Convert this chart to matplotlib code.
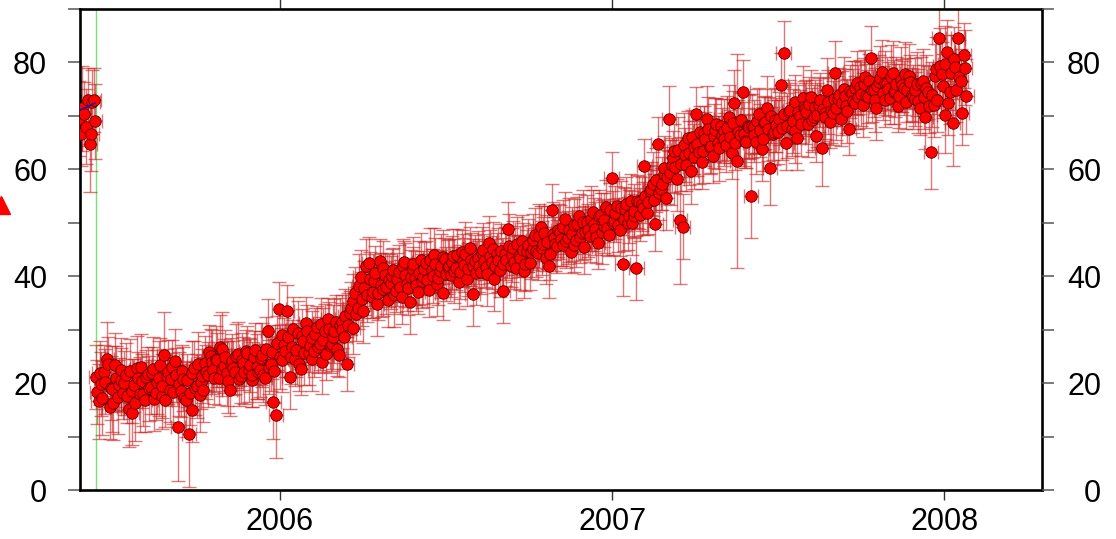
import numpy as np
import matplotlib
matplotlib.use("Agg")
import matplotlib.pyplot as plt

plt.rcParams['font.family'] = ['Liberation Sans', 'DejaVu Sans']

# days counted from 2005-01-01
pre_days = [144, 146, 148, 150, 152, 154, 156, 158, 159, 161, 162]
pre_vals = [69.5, 66.7, 71.4, 70.4, 68.0, 72.9, 64.8, 66.7, 72.6, 72.9, 69.0]
pre_err = [7, 6, 8, 6, 7, 6, 9, 7, 6, 6, 7]

days = [163, 166, 169, 172, 175, 178, 181, 184, 187, 190,
        193, 196, 199, 202, 205, 208, 211, 214, 217, 220,
        223, 226, 229, 232, 235, 238, 241, 244, 247, 250,
        253, 256, 259, 262, 265, 268, 271, 274, 277, 280,
        283, 286, 289, 292, 295, 298, 301, 304, 307, 310,
        313, 316, 319, 322, 325, 328, 331, 334, 337, 340,
        343, 346, 349, 352, 355, 358, 361, 364, 367, 370,
        373, 376, 379, 382, 385, 388, 391, 394, 397, 400,
        403, 406, 409, 412, 415, 418, 421, 424, 427, 430,
        433, 436, 439, 442, 445, 448, 451, 454, 457, 460,
        463, 466, 469, 472, 475, 478, 481, 484, 487, 490,
        493, 496, 499, 502, 505, 508, 511, 514, 517, 520,
        523, 526, 529, 532, 535, 538, 541, 544, 547, 550,
        553, 556, 559, 562, 565, 568, 571, 574, 577, 580,
        583, 586, 589, 592, 595, 598, 601, 604, 607, 610,
        613, 616, 619, 622, 625, 628, 631, 634, 637, 640,
        643, 646, 649, 652, 655, 658, 661, 664, 667, 670,
        673, 676, 679, 682, 685, 688, 691, 694, 697, 700,
        703, 706, 709, 712, 715, 718, 721, 724, 727, 730,
        733, 736, 739, 742, 745, 748, 751, 754, 757, 760,
        763, 766, 769, 772, 775, 778, 781, 784, 787, 790,
        793, 796, 799, 802, 805, 808, 811, 814, 817, 820,
        823, 826, 829, 832, 835, 838, 841, 844, 847, 850,
        853, 856, 859, 862, 865, 868, 871, 874, 877, 880,
        883, 886, 889, 892, 895, 898, 901, 904, 907, 910,
        913, 916, 919, 922, 925, 928, 931, 934, 937, 940,
        943, 946, 949, 952, 955, 958, 961, 964, 967, 970,
        973, 976, 979, 982, 985, 988, 991, 994, 997, 1000,
        1003, 1006, 1009, 1012, 1015, 1018, 1021, 1024, 1027, 1030,
        1033, 1036, 1039, 1042, 1045, 1048, 1051, 1054, 1057, 1060,
        1063, 1066, 1069, 1072, 1075, 1078, 1081, 1084, 1087, 1090,
        1093, 1096, 1099, 1102, 1105, 1108, 1111, 1114, 1117, 1120]

vals = [21.2, 16.6, 19.8, 22.1, 24.5, 15.5, 18.9, 23.3, 17.4, 20.6,
        18.2, 21.5, 15.1, 14.4, 19.6, 22.8, 17.9, 20.4, 16.8, 21.7,
        19.3, 22.6, 18.1, 20.9, 17.5, 25.3, 21.4, 18.8, 23.0, 24.2,
        11.7, 18.6, 20.8, 16.9, 10.5, 15.0, 22.9, 19.4, 17.8, 21.3,
        23.8, 21.6, 25.1, 22.4, 24.6, 20.9, 26.3, 23.2, 21.8, 18.8,
        24.1, 22.0, 25.4, 21.3, 23.7, 26.0, 22.5, 20.6, 24.8, 23.1,
        22.4, 25.2, 20.9, 29.8, 23.6, 16.5, 14.0, 33.9, 24.3, 27.1,
        33.4, 21.2, 26.8, 24.5, 29.3, 22.7, 27.9, 31.2, 25.6, 28.4,
        26.1, 30.5, 27.4, 23.9, 29.8, 32.0, 26.9, 28.6, 31.4, 25.2,
        31.5, 28.7, 23.6, 33.2, 30.4, 36.8, 34.1, 39.9, 33.5, 42.0,
        42.4, 36.2, 39.1, 34.8, 42.9, 37.6, 40.3, 35.5, 38.8, 41.2,
        37.3, 40.8, 36.1, 42.6, 38.5, 35.2, 41.4, 39.7, 37.0, 43.1,
        39.8, 42.5, 37.4, 41.1, 44.0, 38.6, 40.9, 36.8, 43.2, 41.7,
        40.2, 43.8, 41.5, 38.9, 44.6, 42.1, 39.5, 45.2, 36.7, 42.8,
        43.5, 40.7, 44.9, 41.8, 46.3, 42.6, 39.4, 44.1, 41.2, 37.3,
        44.2, 48.9, 42.0, 45.3, 41.6, 43.8, 46.5, 40.9, 44.7, 42.4,
        45.1, 47.8, 44.3, 49.2, 46.0, 43.5, 42.0, 52.3, 47.1, 45.6,
        48.3, 45.9, 50.7, 47.2, 44.6, 49.5, 46.8, 51.3, 48.0, 45.4,
        50.2, 47.6, 52.1, 48.9, 46.3, 51.5, 49.4, 53.0, 47.8, 58.3,
        50.4, 53.2, 48.7, 42.3, 52.6, 49.9, 54.1, 51.3, 41.6, 53.8,
        53.5, 60.7, 51.8, 55.9, 57.2, 49.8, 64.8, 56.3, 59.1, 54.6,
        69.5, 60.8, 63.4, 58.2, 50.5, 49.3, 62.7, 65.9, 59.6, 64.1,
        70.4, 63.2, 61.3, 66.8, 69.5, 64.1, 62.5, 67.3, 65.0, 68.2,
        67.2, 64.5, 69.8, 63.1, 72.5, 61.6, 66.4, 74.4, 65.3, 68.1,
        55.1, 67.9, 65.2, 70.3, 63.8, 68.6, 71.4, 60.3, 66.7, 69.2,
        67.0, 75.7, 81.7, 64.9, 70.8, 67.5, 72.6, 65.8, 69.9, 73.4,
        71.2, 68.4, 73.5, 69.7, 66.3, 72.0, 63.9, 70.6, 74.8, 68.9,
        70.5, 78.1, 73.2, 69.4, 75.0, 71.8, 67.6, 74.3, 72.5, 76.2,
        75.4, 72.1, 77.3, 73.6, 80.9, 74.8, 71.5, 76.4, 78.2, 73.0,
        76.1, 73.4, 78.0, 74.7, 71.9, 76.8, 75.2, 72.6, 77.4, 74.0,
        73.2, 75.9, 71.4, 76.6, 69.8, 74.4, 63.3, 72.0, 78.7, 84.5,
        77.8, 70.1, 81.9, 74.5, 68.6, 79.2, 84.5, 76.6, 81.3, 73.7]

errs = [6, 7, 6, 5, 7, 6, 8, 6, 7, 6,
        5, 6, 7, 6, 5, 6, 7, 5, 6, 5,
        5, 6, 5, 7, 6, 8, 5, 6, 5, 6,
        10, 5, 6, 7, 10, 6, 5, 6, 7, 5,
        5, 6, 5, 4, 6, 5, 7, 5, 6, 5,
        5, 4, 6, 5, 5, 4, 6, 5, 5, 6,
        5, 6, 5, 6, 5, 7, 8, 5, 6, 5,
        5, 6, 5, 5, 6, 5, 4, 5, 6, 5,
        5, 4, 5, 6, 5, 4, 5, 6, 5, 4,
        5, 6, 5, 4, 5, 5, 4, 5, 6, 5,
        5, 4, 5, 6, 4, 5, 4, 5, 5, 4,
        4, 5, 5, 4, 5, 6, 4, 5, 4, 5,
        5, 4, 5, 4, 5, 6, 4, 5, 4, 5,
        4, 5, 4, 5, 4, 5, 5, 4, 6, 5,
        5, 4, 5, 4, 5, 5, 6, 4, 5, 6,
        5, 5, 4, 5, 6, 4, 5, 5, 4, 5,
        4, 5, 5, 4, 5, 5, 6, 5, 4, 5,
        5, 4, 5, 5, 4, 5, 5, 4, 5, 5,
        5, 5, 4, 5, 5, 4, 5, 5, 4, 5,
        4, 5, 5, 6, 4, 5, 5, 4, 6, 5,
        5, 5, 4, 5, 6, 5, 5, 4, 5, 6,
        6, 5, 5, 6, 12, 6, 5, 5, 6, 5,
        5, 6, 5, 5, 6, 5, 5, 6, 5, 5,
        6, 5, 6, 5, 6, 20, 5, 6, 5, 6,
        8, 5, 6, 5, 6, 5, 6, 7, 5, 6,
        6, 6, 6, 5, 6, 5, 5, 6, 5, 6,
        5, 6, 5, 6, 5, 5, 7, 5, 6, 5,
        6, 6, 5, 5, 6, 5, 5, 6, 5, 6,
        5, 6, 5, 5, 6, 5, 6, 5, 6, 5,
        5, 5, 6, 5, 5, 6, 5, 5, 6, 5,
        5, 6, 5, 6, 6, 5, 7, 6, 6, 6,
        6, 7, 6, 6, 8, 6, 7, 6, 6, 7]

# second set of daily solutions (interleaved days)
days_b = [164, 167, 170, 173, 176, 179, 182, 185, 188, 191,
          194, 197, 200, 203, 206, 209, 212, 215, 218, 221,
          224, 227, 230, 233, 236, 239, 242, 245, 248, 251,
          254, 257, 260, 263, 266, 269, 272, 275, 278, 281,
          284, 287, 290, 293, 296, 299, 302, 305, 308, 311,
          314, 317, 320, 323, 326, 329, 332, 335, 338, 341,
          344, 347, 350, 353, 356, 359, 362, 365, 368, 371,
          374, 377, 380, 383, 386, 389, 392, 395, 398, 401,
          404, 407, 410, 413, 416, 419, 422, 425, 428, 431,
          434, 437, 440, 443, 446, 449, 452, 455, 458, 461,
          464, 467, 470, 473, 476, 479, 482, 485, 488, 491,
          494, 497, 500, 503, 506, 509, 512, 515, 518, 521,
          524, 527, 530, 533, 536, 539, 542, 545, 548, 551,
          554, 557, 560, 563, 566, 569, 572, 575, 578, 581,
          584, 587, 590, 593, 596, 599, 602, 605, 608, 611,
          614, 617, 620, 623, 626, 629, 632, 635, 638, 641,
          644, 647, 650, 653, 656, 659, 662, 665, 668, 671,
          674, 677, 680, 683, 686, 689, 692, 695, 698, 701,
          704, 707, 710, 713, 716, 719, 722, 725, 728, 731,
          734, 737, 740, 743, 746, 749, 752, 755, 758, 761,
          764, 767, 770, 773, 776, 779, 782, 785, 788, 791,
          794, 797, 800, 803, 806, 809, 812, 815, 818, 821,
          824, 827, 830, 833, 836, 839, 842, 845, 848, 851,
          854, 857, 860, 863, 866, 869, 872, 875, 878, 881,
          884, 887, 890, 893, 896, 899, 902, 905, 908, 911,
          914, 917, 920, 923, 926, 929, 932, 935, 938, 941,
          944, 947, 950, 953, 956, 959, 962, 965, 968, 971,
          974, 977, 980, 983, 986, 989, 992, 995, 998, 1001,
          1004, 1007, 1010, 1013, 1016, 1019, 1022, 1025, 1028, 1031,
          1034, 1037, 1040, 1043, 1046, 1049, 1052, 1055, 1058, 1061,
          1064, 1067, 1070, 1073, 1076, 1079, 1082, 1085, 1088, 1091,
          1094, 1097, 1100, 1103, 1106, 1109, 1112, 1115, 1118]

vals_b = [18.4, 21.9, 17.2, 20.3, 23.6, 19.1, 16.3, 21.0, 19.7, 22.4,
          20.1, 17.6, 22.3, 18.5, 16.2, 20.9, 23.1, 18.0, 21.2, 19.0,
          21.8, 17.0, 20.2, 23.4, 19.5, 16.8, 22.0, 20.7, 18.3, 21.5,
          19.9, 22.2, 17.3, 20.5, 18.1, 21.8, 19.0, 23.5, 20.2, 18.7,
          22.1, 25.8, 23.9, 21.0, 24.3, 26.7, 22.6, 24.9, 20.4, 23.5,
          22.8, 25.0, 20.8, 24.4, 22.1, 25.7, 23.3, 21.6, 26.2, 22.0,
          24.7, 21.5, 26.4, 23.0, 25.8, 22.3, 27.5, 24.9, 29.0, 26.1,
          28.6, 24.8, 30.1, 26.2, 23.5, 28.9, 25.7, 29.7, 27.0, 24.6,
          29.1, 26.8, 31.0, 28.0, 25.5, 30.2, 27.3, 29.8, 26.4, 30.9,
          29.9, 32.6, 30.8, 34.0, 35.4, 32.9, 38.1, 35.7, 37.8, 36.4,
          39.5, 37.1, 40.6, 36.8, 38.3, 41.5, 37.9, 39.2, 40.1, 36.5,
          39.4, 38.0, 41.9, 40.2, 37.8, 39.9, 42.3, 38.4, 40.6, 39.1,
          41.4, 39.2, 43.0, 40.0, 42.2, 39.7, 41.9, 43.6, 40.4, 42.0,
          42.6, 41.0, 43.9, 40.8, 42.9, 44.2, 41.3, 43.1, 42.0, 40.6,
          42.0, 44.3, 42.9, 40.5, 43.7, 45.1, 41.9, 43.0, 44.8, 42.2,
          43.1, 45.6, 44.0, 42.7, 46.1, 43.4, 44.9, 42.3, 45.8, 44.5,
          46.7, 44.8, 47.5, 45.3, 48.1, 46.4, 44.2, 47.9, 46.0, 48.6,
          47.0, 49.2, 46.5, 48.7, 47.9, 45.8, 49.8, 47.4, 50.1, 48.2,
          48.6, 50.8, 49.7, 47.4, 51.2, 48.3, 50.5, 49.0, 52.4, 50.0,
          51.9, 49.6, 52.8, 50.7, 53.5, 51.2, 49.9, 52.2, 54.0, 51.5,
          52.7, 55.0, 53.9, 56.4, 54.2, 58.0, 55.6, 57.3, 60.2, 58.6,
          59.4, 62.2, 60.5, 63.7, 61.0, 64.6, 60.9, 63.0, 66.1, 62.4,
          64.8, 66.9, 63.5, 65.7, 67.6, 64.3, 66.2, 68.4, 63.9, 66.5,
          65.6, 67.8, 66.1, 68.7, 64.9, 67.0, 69.3, 66.6, 65.2, 67.9,
          68.1, 66.4, 69.0, 67.3, 65.7, 68.8, 67.6, 70.0, 66.9, 68.3,
          69.5, 67.8, 70.4, 68.2, 71.1, 69.0, 67.1, 70.7, 68.5, 71.6,
          70.8, 72.3, 69.2, 71.7, 70.1, 73.0, 71.3, 69.8, 72.6, 71.0,
          73.1, 71.5, 74.0, 72.4, 73.7, 70.9, 74.6, 72.8, 75.3, 73.5,
          74.1, 75.9, 73.7, 76.6, 74.8, 72.9, 75.5, 77.0, 74.3, 76.1,
          75.0, 77.2, 74.4, 76.0, 73.8, 75.7, 77.8, 74.9, 76.3, 73.6,
          74.9, 72.8, 76.1, 73.5, 75.3, 71.8, 74.0, 77.5, 73.0, 79.4,
          75.6, 79.8, 72.4, 78.1, 80.6, 74.9, 77.2, 70.5, 79.0]

errs_b = [6, 6, 7, 6, 5, 6, 7, 6, 5, 6,
          6, 5, 6, 6, 7, 5, 6, 6, 5, 6,
          5, 6, 6, 5, 6, 5, 6, 5, 6, 5,
          6, 5, 6, 5, 6, 6, 5, 6, 5, 6,
          5, 5, 6, 5, 5, 6, 5, 5, 6, 5,
          5, 6, 5, 5, 6, 5, 5, 6, 5, 5,
          5, 5, 6, 5, 5, 6, 5, 6, 5, 5,
          5, 5, 6, 5, 5, 5, 6, 5, 5, 6,
          5, 5, 5, 6, 5, 5, 5, 6, 5, 5,
          5, 5, 6, 5, 5, 5, 6, 5, 5, 5,
          5, 5, 5, 5, 6, 5, 5, 5, 5, 6,
          5, 5, 5, 6, 5, 5, 5, 5, 6, 5,
          5, 5, 6, 5, 5, 5, 6, 5, 5, 5,
          5, 6, 5, 5, 5, 6, 5, 5, 5, 6,
          5, 5, 5, 6, 5, 5, 5, 6, 5, 5,
          5, 6, 5, 5, 5, 6, 5, 5, 5, 5,
          5, 5, 6, 5, 5, 5, 5, 6, 5, 5,
          5, 5, 5, 6, 5, 5, 5, 5, 6, 5,
          5, 6, 5, 5, 5, 6, 5, 5, 5, 6,
          5, 5, 5, 6, 5, 5, 6, 5, 5, 5,
          5, 5, 6, 5, 5, 6, 5, 5, 6, 5,
          6, 5, 5, 6, 5, 6, 5, 6, 5, 6,
          6, 5, 6, 5, 6, 5, 6, 5, 6, 5,
          5, 6, 5, 6, 5, 6, 5, 6, 5, 6,
          6, 5, 6, 5, 6, 5, 6, 5, 6, 5,
          5, 6, 5, 6, 5, 6, 6, 5, 6, 5,
          6, 5, 6, 5, 6, 5, 6, 5, 6, 6,
          5, 6, 5, 6, 5, 6, 5, 6, 5, 6,
          6, 5, 6, 5, 6, 6, 5, 6, 5, 6,
          5, 6, 6, 5, 6, 5, 6, 6, 5, 6,
          6, 6, 5, 6, 6, 5, 6, 6, 6, 7,
          6, 7, 6, 7, 6, 6, 7, 6, 7]

time_err_days = 8
event_day = 162.6
pre_fit_days = [144, 162]
pre_fit_vals = [71.0, 72.4]
offscale_point = (2005.16, 53.4)

year_ticks = [2006, 2007, 2008]
y_major = [0, 20, 40, 60, 80]
y_all = [0, 10, 20, 30, 40, 50, 60, 70, 80, 90]


def to_year(d):
    return 2005 + np.asarray(d, dtype=float) / 365.25


t_all = np.concatenate([to_year(pre_days), to_year(days), to_year(days_b)])
v_all = np.array(pre_vals + vals + vals_b)
e_all = np.array(pre_err + errs + errs_b)
order = np.argsort(t_all, kind='stable')
t_all, v_all, e_all = t_all[order], v_all[order], e_all[order]

fig = plt.figure(figsize=(11.16, 5.39), dpi=100)
ax = fig.add_axes([80 / 1116, 1 - 490 / 539, 962 / 1116, 481 / 539])

ax.errorbar(t_all, v_all, yerr=e_all, xerr=time_err_days / 365.25, fmt='none',
            ecolor='#c81e1e', elinewidth=1, capsize=5, capthick=1, alpha=0.6, zorder=2)
ax.plot(t_all, v_all, 'o', ms=8.3, mfc='#ff0000', mec='#5a0000', mew=0.6, zorder=3)
ax.plot(to_year(pre_fit_days), pre_fit_vals, color='#1a1a9a', lw=1.2, zorder=4)
ax.axvline(to_year(event_day), color='#7be07b', lw=1, zorder=1)
ax.plot([offscale_point[0]], [offscale_point[1]], marker='^', ms=13, color='#ff0000',
        clip_on=False, zorder=5)

ax.set_xlim(2005.398, 2008.294)
ax.set_ylim(0, 90)

for s in ax.spines.values():
    s.set_linewidth(1.9)
    s.set_color('black')

ax.set_xticks(year_ticks)
ax.set_xticklabels([str(y) for y in year_ticks])
ax.tick_params(axis='x', which='major', direction='out', length=7.5, width=1,
               color='#333333', top=True, labelsize=22, pad=5)

ax.set_yticks(y_all)
ax.set_yticklabels([str(v) if v in y_major else '' for v in y_all])
ax.tick_params(axis='y', direction='out', length=8.6, width=1.1, color='#555555',
               labelsize=22, pad=15)

ax2 = ax.twinx()
ax2.set_ylim(0, 90)
ax2.set_yticks(y_all)
ax2.set_yticklabels([str(v) if v in y_major else '' for v in y_all], ha='right')
ax2.tick_params(axis='y', direction='out', length=8.6, width=1.1, color='#555555',
                labelsize=22, pad=34)
for s in ax2.spines.values():
    s.set_visible(False)

fig.savefig('out.png', dpi=100)
